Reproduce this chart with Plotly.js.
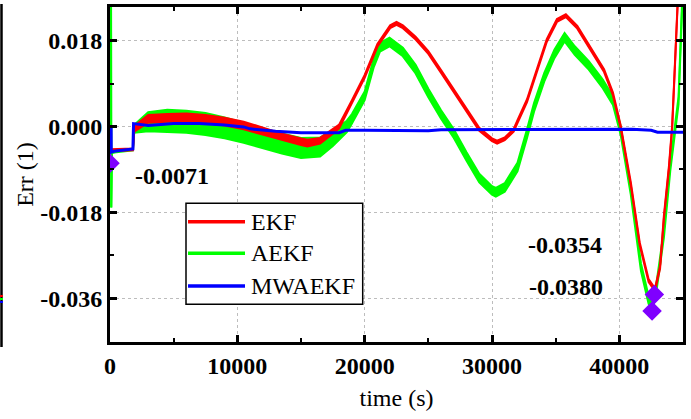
<!DOCTYPE html>
<html>
<head>
<meta charset="utf-8">
<script src="https://cdn.plot.ly/plotly-3.0.1.min.js"></script>
<style>html,body{margin:0;padding:0;background:#fff;}</style>
</head>
<body>
<div id="chart" style="width:691px;height:419px;"></div>
<script>
// ---------- data ----------
const seriesNames = ["EKF", "AEKF", "MWAEKF"];
const seriesColors = ["#ff0000", "#00ff00", "#0000ff"];

const ekfTime = [0, 1800, 1900, 3000, 4500, 6000, 7500, 9000, 10500, 12000,
  13500, 15000, 15500, 16500, 17500, 18000, 19000, 20000, 21000, 22000,
  22500, 23000, 24000, 25000, 26000, 27000, 28000, 29000, 30000, 30400,
  31000, 31700, 32000, 32750, 33500, 34300, 35100, 35800, 36700, 37700,
  38800, 39500, 40100, 40900, 41600, 42300, 42800, 43200, 43500, 43900,
  44150, 44300, 44600];
const ekfErr = [-0.0050, -0.0048, -0.0005, 0.0016, 0.0018, 0.0019, 0.0016, 0.0010, 0.0002, -0.0010,
  -0.0022, -0.0032, -0.0035, -0.0030, -0.0010, 0.0000, 0.0052, 0.0105, 0.0170, 0.0209,
  0.0216, 0.0209, 0.0185, 0.0155, 0.0115, 0.0075, 0.0035, -0.0006, -0.0028, -0.0033,
  -0.0026, -0.0008, 0.0010, 0.0054, 0.0115, 0.0180, 0.0222, 0.0232, 0.0208, 0.0166,
  0.0117, 0.0068, 0.0000, -0.0120, -0.0246, -0.0323, -0.0342, -0.0295, -0.0190, -0.0085,
  0.0000, 0.0089, 0.0270];
// half-amplitude of the noise band around the EKF curve
const ekfNoise = [0.0002, 0.0002, 0.0006, 0.0008, 0.0008, 0.0008, 0.0008, 0.0008, 0.0008, 0.0007,
  0.0007, 0.0007, 0.0007, 0.0006, 0.0005, 0.0004, 0.0003, 0.0003, 0.0003, 0.0003,
  0.0003, 0.0003, 0.0003, 0.0003, 0.0003, 0.0003, 0.0003, 0.0003, 0.0003, 0.0003,
  0.0003, 0.0003, 0.0003, 0.0003, 0.0003, 0.0003, 0.0003, 0.0003, 0.0003, 0.0003,
  0.0003, 0.0003, 0.0003, 0.0003, 0.0003, 0.0003, 0.0003, 0.0003, 0.0003, 0.0003,
  0.0003, 0.0003, 0.0003];

const aekfTime = [80, 100, 150, 1800, 1900, 3000, 4500, 6000, 7500, 9000,
  10500, 12000, 13500, 15000, 16500, 17500, 18600, 19000, 20000, 20700,
  21200, 21950, 23000, 24000, 25000, 26000, 27000, 28000, 29000, 30000,
  30300, 31000, 32000, 32750, 33300, 34100, 34900, 35700, 36500, 37600,
  38700, 39500, 40100, 40900, 41700, 42300, 42600, 42950, 43500, 44000,
  44400, 44650, 44950];
const aekfErr = [0.0300, -0.0170, -0.0055, -0.0048, -0.0005, 0.0010, 0.0012, 0.0010, 0.0005, -0.0003,
  -0.0013, -0.0025, -0.0036, -0.0045, -0.0043, -0.0025, 0.0000, 0.0016, 0.0064, 0.0132,
  0.0166, 0.0177, 0.0156, 0.0120, 0.0070, 0.0025, -0.0015, -0.0063, -0.0108, -0.0134,
  -0.0138, -0.0128, -0.0085, -0.0015, 0.0040, 0.0103, 0.0152, 0.0187, 0.0159, 0.0128,
  0.0089, 0.0054, -0.0008, -0.0135, -0.0295, -0.0364, -0.0378, -0.0330, -0.0225, -0.0085,
  0.0000, 0.0054, 0.0270];
const aekfNoise = [0.0000, 0.0000, 0.0000, 0.0002, 0.0008, 0.0020, 0.0023, 0.0023, 0.0023, 0.0022,
  0.0021, 0.0021, 0.0021, 0.0021, 0.0020, 0.0016, 0.0012, 0.0010, 0.0009, 0.0009,
  0.0009, 0.0009, 0.0009, 0.0009, 0.0009, 0.0009, 0.0009, 0.0009, 0.0009, 0.0009,
  0.0009, 0.0009, 0.0009, 0.0009, 0.0009, 0.0009, 0.0009, 0.0009, 0.0009, 0.0009,
  0.0009, 0.0009, 0.0009, 0.0008, 0.0008, 0.0008, 0.0008, 0.0008, 0.0008, 0.0008,
  0.0008, 0.0008, 0.0008];

const mwaekfTime = [0, 90, 100, 300, 1800, 1850, 3000, 5000, 7000, 9000,
  10500, 11000, 13000, 15000, 18000, 18500, 20000, 25000, 26000, 35000,
  36000, 41000, 42500, 43000, 45000];
const mwaekfErr = [0.0000, 0.0000, -0.0054, -0.0052, -0.0047, 0.0006, 0.0002, 0.0006, 0.0006, 0.0003,
  -0.0001, -0.0005, -0.0010, -0.0013, -0.0013, -0.0008, -0.0008, -0.0009, -0.0007, -0.0006,
  -0.0005, -0.0006, -0.0008, -0.0012, -0.0012];

// marked extreme points (diamonds) and their labels
const markTime = [0, 42750, 42570];
const markErr = [-0.0077, -0.0352, -0.0387];
const markLabels = ["-0.0071", "-0.0354", "-0.0380"];
const labelTime = [4900, 35770, 35800];
const labelErr = [-0.0103, -0.0249, -0.0337];

const xTickVals = [0, 10000, 20000, 30000, 40000];
const xTickText = ["0", "10000", "20000", "30000", "40000"];
const yTickVals = [0.018, 0.000, -0.018, -0.036];
const yTickText = ["0.018", "0.000", "-0.018", "-0.036"];

// ---------- build traces ----------
function band(t, v, n, color) {
  const lo = v.map((d, i) => d - n[i]);
  const hi = v.map((d, i) => d + n[i]);
  return [
    {x: t, y: lo, type: 'scatter', mode: 'lines', line: {color: color, width: 2}, showlegend: false, hoverinfo: 'skip'},
    {x: t, y: hi, type: 'scatter', mode: 'lines', fill: 'tonexty', fillcolor: color, line: {color: color, width: 2}, showlegend: false, hoverinfo: 'skip'}
  ];
}

const traces = [].concat(
  band(aekfTime, aekfErr, aekfNoise, seriesColors[1]),
  band(ekfTime, ekfErr, ekfNoise, seriesColors[0]),
  [{x: mwaekfTime, y: mwaekfErr, type: 'scatter', mode: 'lines', line: {color: seriesColors[2], width: 3}, showlegend: false, name: seriesNames[2]},
   {x: markTime, y: markErr, type: 'scatter', mode: 'markers', marker: {symbol: 'diamond', size: 15, color: '#7f00ff'}, showlegend: false}]
);

// ---------- layout ----------
const L = 110, R = 683, T = 7, B = 342;
const xp = px => (px - L) / (R - L);
const yp = py => (B - py) / (B - T);

const serif = 'Liberation Serif, Times New Roman, serif';
const shapes = [
  // custom legend box
  {type: 'rect', xref: 'paper', yref: 'paper', x0: xp(186), x1: xp(362.7), y0: yp(304.3), y1: yp(203.3),
   line: {color: '#000', width: 1.5}, fillcolor: '#fff', layer: 'above'},
  // partial neighbouring frame at the left page edge
  {type: 'line', xref: 'paper', yref: 'paper', x0: xp(1.5), x1: xp(1.5), y0: yp(4), y1: yp(347), line: {color: '#000', width: 2.5}},
  {type: 'line', xref: 'paper', yref: 'paper', x0: xp(0), x1: xp(3), y0: yp(296), y1: yp(296), line: {color: '#ff0000', width: 2}},
  {type: 'line', xref: 'paper', yref: 'paper', x0: xp(0), x1: xp(3), y0: yp(299), y1: yp(299), line: {color: '#00ff00', width: 2}},
  {type: 'line', xref: 'paper', yref: 'paper', x0: xp(0), x1: xp(3), y0: yp(302), y1: yp(302), line: {color: '#0000ff', width: 2}}
];
const legendY = [221.7, 253.3, 286];
const annotations = [];
seriesNames.forEach((nm, i) => {
  shapes.push({type: 'line', xref: 'paper', yref: 'paper', x0: xp(188), x1: xp(245), y0: yp(legendY[i]), y1: yp(legendY[i]),
    line: {color: seriesColors[i], width: 3.5}, layer: 'above'});
  annotations.push({xref: 'paper', yref: 'paper', x: xp(249), y: yp(legendY[i]), xanchor: 'left', yanchor: 'middle',
    text: nm, showarrow: false, font: {family: serif, size: 24, color: '#000'}});
});
markLabels.forEach((s, i) => {
  annotations.push({xref: 'x', yref: 'y', x: labelTime[i], y: labelErr[i], xanchor: 'center', yanchor: 'middle',
    text: s, showarrow: false, font: {family: serif, size: 24, color: '#000', weight: 'bold'}});
});

const axisCommon = {
  ticks: 'inside', ticklen: 7, tickwidth: 3, tickcolor: '#000',
  showline: true, linewidth: 3, linecolor: '#000', mirror: 'ticks',
  showgrid: true, gridcolor: '#bdbdbd', gridwidth: 1, griddash: 'dot',
  zeroline: false, tickmode: 'array',
  tickfont: {family: serif, size: 24, color: '#000', weight: 'bold'}
};

const layout = {
  width: 691, height: 419,
  margin: {l: L, r: 691 - R, t: T, b: 419 - B, pad: 0},
  paper_bgcolor: '#fff', plot_bgcolor: '#fff',
  showlegend: false,
  font: {family: serif, color: '#000', size: 24},
  xaxis: Object.assign({}, axisCommon, {
    range: [0, 45000], tickvals: xTickVals, ticktext: xTickText,
    title: {text: 'time (s)', font: {family: serif, size: 24, color: '#000'}, standoff: 12},
    minor: {tickmode: 'linear', tick0: 0, dtick: 5000, ticks: 'inside', ticklen: 4, tickwidth: 2, tickcolor: '#000', showgrid: false}
  }),
  yaxis: Object.assign({}, axisCommon, {
    range: [-0.04517, 0.02503], tickvals: yTickVals, ticktext: yTickText,
    title: {text: 'Err (1)', font: {family: serif, size: 24, color: '#000'}, standoff: 0},
    minor: {tickmode: 'linear', tick0: 0, dtick: 0.009, ticks: 'inside', ticklen: 4, tickwidth: 2, tickcolor: '#000', showgrid: false}
  }),
  shapes: shapes,
  annotations: annotations
};

Plotly.newPlot('chart', traces, layout, {displayModeBar: false, staticPlot: true});
</script>
</body>
</html>
